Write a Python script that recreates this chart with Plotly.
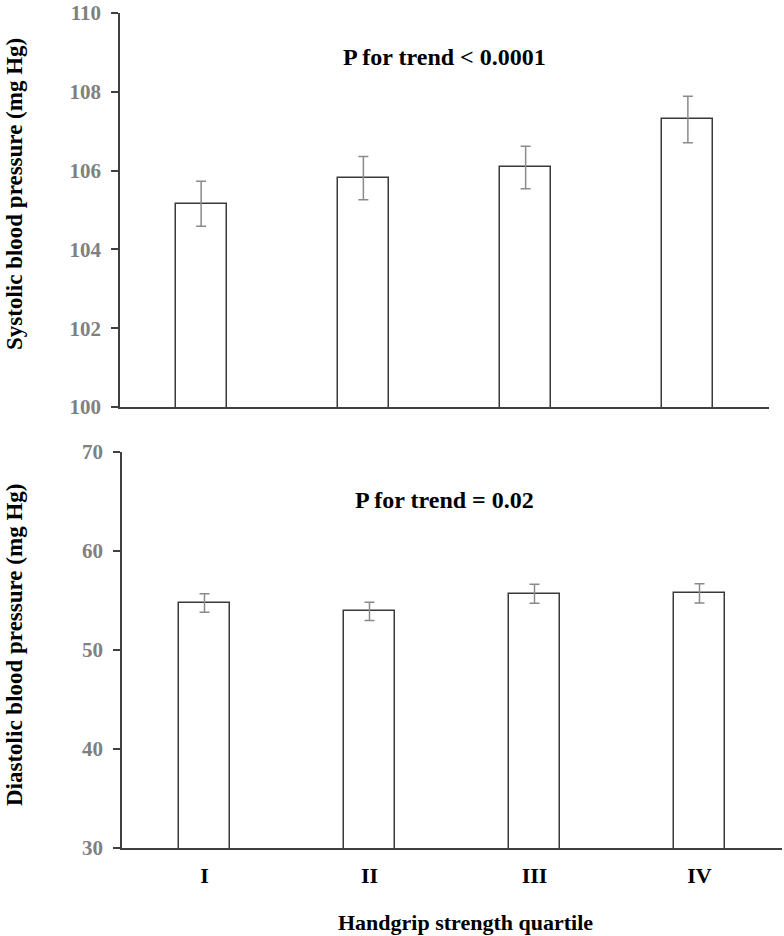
import plotly.graph_objects as go

quartiles = ["I", "II", "III", "IV"]
systolic = [105.16, 105.81, 106.08, 107.30]
systolic_err = [0.57, 0.55, 0.54, 0.59]
diastolic = [54.75, 53.90, 55.68, 55.72]
diastolic_err = [0.94, 0.92, 0.95, 0.97]

sys_ticks = [100, 102, 104, 106, 108, 110]
dia_ticks = [30, 40, 50, 60, 70]

W, H = 784, 936
FONT = "Liberation Serif"
BAR_LINE = "#3a3a3a"
ERR_COL = "#8a8a8a"
AX_COL = "#404040"
TICK_COL = "#808080"

fig = go.Figure()

fig.add_trace(go.Bar(
    x=quartiles, y=systolic, xaxis="x", yaxis="y",
    width=0.315, marker=dict(color="white", line=dict(color=BAR_LINE, width=1.5)),
    error_y=dict(type="data", array=systolic_err, color=ERR_COL, thickness=1.5, width=5),
    showlegend=False,
))
fig.add_trace(go.Bar(
    x=quartiles, y=diastolic, xaxis="x2", yaxis="y2",
    width=0.315, marker=dict(color="white", line=dict(color=BAR_LINE, width=1.5)),
    error_y=dict(type="data", array=diastolic_err, color=ERR_COL, thickness=1.5, width=5),
    showlegend=False,
))

def px_x(p):
    return p / W

def px_y(p):
    return 1 - p / H

yaxis_common = dict(
    showline=True, linecolor=AX_COL, linewidth=1.5,
    ticks="outside", ticklen=7, tickcolor=AX_COL, tickwidth=1.5,
    showgrid=False, zeroline=False, automargin=False, ticklabelstandoff=6,
    ticklabeloverflow="allow",
    tickfont=dict(family=FONT, size=21, color=TICK_COL, weight="bold"),
)
xaxis_common = dict(
    showline=True, linecolor=AX_COL, linewidth=1.5,
    ticks="", showgrid=False, zeroline=False, range=[-0.5, 3.5], automargin=False,
    ticklabelstandoff=7, ticklabeloverflow="allow",
    tickfont=dict(family=FONT, size=22, color="black", weight="bold"),
)

fig.update_layout(
    width=W, height=H,
    margin=dict(l=0, r=0, t=0, b=0, autoexpand=False),
    paper_bgcolor="white", plot_bgcolor="white",
    bargap=0,
    xaxis=dict(domain=[px_x(120), px_x(769)], anchor="y", showticklabels=False, **xaxis_common),
    yaxis=dict(domain=[px_y(407), px_y(13)], anchor="x", range=[100, 110],
               tickvals=sys_ticks, **yaxis_common),
    xaxis2=dict(domain=[px_x(122), px_x(782)], anchor="y2", showticklabels=True, **xaxis_common),
    yaxis2=dict(domain=[px_y(848), px_y(452)], anchor="x2", range=[30, 70],
                tickvals=dia_ticks, **yaxis_common),
    annotations=[
        dict(text="P for trend < 0.0001", x=px_x(444), y=px_y(57), xref="paper", yref="paper",
             showarrow=False, xanchor="center", yanchor="middle",
             font=dict(family=FONT, size=24, color="black", weight="bold")),
        dict(text="P for trend = 0.02", x=px_x(444), y=px_y(500), xref="paper", yref="paper",
             showarrow=False, xanchor="center", yanchor="middle",
             font=dict(family=FONT, size=24, color="black", weight="bold")),
        dict(text="Systolic blood pressure (mg Hg)", x=px_x(14), y=px_y(194), xref="paper", yref="paper",
             showarrow=False, xanchor="center", yanchor="middle", textangle=-90,
             font=dict(family=FONT, size=23, color="black", weight="bold")),
        dict(text="Diastolic blood pressure (mg Hg)", x=px_x(14), y=px_y(645), xref="paper", yref="paper",
             showarrow=False, xanchor="center", yanchor="middle", textangle=-90,
             font=dict(family=FONT, size=23, color="black", weight="bold")),
        dict(text="Handgrip strength quartile", x=px_x(465), y=px_y(922), xref="paper", yref="paper",
             showarrow=False, xanchor="center", yanchor="middle",
             font=dict(family=FONT, size=22, color="black", weight="bold")),
    ],
)

fig.write_html(
    "out.html",
    config={"displayModeBar": False},
    post_script="document.body.style.margin='0px';document.body.style.overflow='hidden';",
)
